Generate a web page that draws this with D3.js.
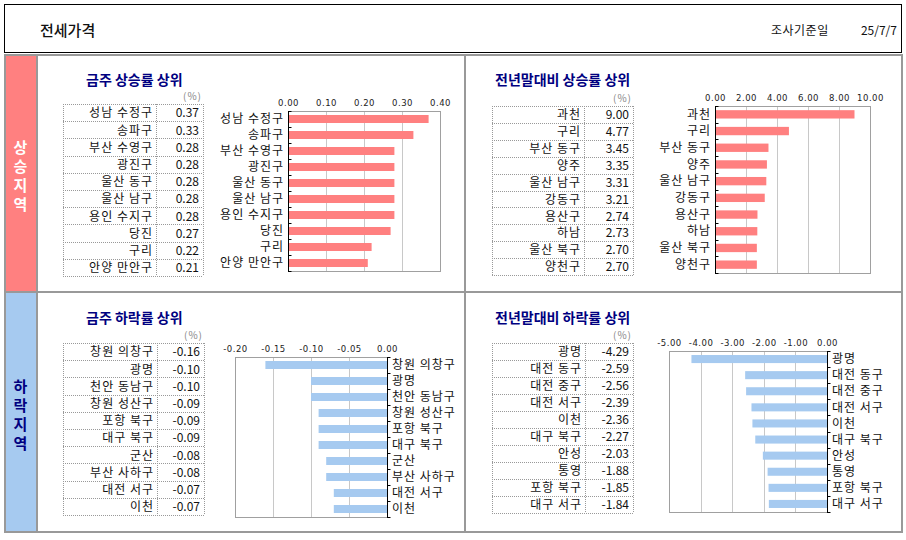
<!DOCTYPE html>
<html>
<head>
<meta charset="utf-8">
<script src="https://cdn.jsdelivr.net/npm/d3@7"></script>
<style>
  body { margin: 0; background: #fff; }
  svg text { font-family: "Noto Sans CJK KR", "Noto Sans", sans-serif; }
</style>
</head>
<body>
<div id="chart"></div>
<script>
// data
var riseWeekNames = ["성남 수정구", "송파구", "부산 수영구", "광진구", "울산 동구", "울산 남구", "용인 수지구", "당진", "구리", "안양 만안구"];
var riseWeekValues = [0.37, 0.33, 0.28, 0.28, 0.28, 0.28, 0.28, 0.27, 0.22, 0.21];
var riseWeekTicks = [0, 0.1, 0.2, 0.3, 0.4];

var riseYearNames = ["과천", "구리", "부산 동구", "양주", "울산 남구", "강동구", "용산구", "하남", "울산 북구", "양천구"];
var riseYearValues = [9.00, 4.77, 3.45, 3.35, 3.31, 3.21, 2.74, 2.73, 2.70, 2.70];
var riseYearTicks = [0, 2, 4, 6, 8, 10];

var fallWeekNames = ["창원 의창구", "광명", "천안 동남구", "창원 성산구", "포항 북구", "대구 북구", "군산", "부산 사하구", "대전 서구", "이천"];
var fallWeekValues = [-0.16, -0.10, -0.10, -0.09, -0.09, -0.09, -0.08, -0.08, -0.07, -0.07];
var fallWeekTicks = [-0.2, -0.15, -0.1, -0.05, 0];

var fallYearNames = ["광명", "대전 동구", "대전 중구", "대전 서구", "이천", "대구 북구", "안성", "통영", "포항 북구", "대구 서구"];
var fallYearValues = [-4.29, -2.59, -2.56, -2.39, -2.36, -2.27, -2.03, -1.88, -1.85, -1.84];
var fallYearTicks = [-5, -4, -3, -2, -1, 0];

var pageTitle = "전세가격";
var dateLabel = "조사기준일";
var dateValue = "25/7/7";

var pink = "#ff8080";
var blue = "#a6caf0";
var navy = "#000080";
var frame = "#999999";

var svg = d3.select("#chart")
  .append("svg")
  .attr("width", 906)
  .attr("height", 540);

// header box
svg.append("rect")
  .attr("x", 4.5).attr("y", 4.5).attr("width", 897).attr("height", 48)
  .attr("fill", "#fff").attr("stroke", "#000").attr("stroke-width", 1);
svg.append("text")
  .attr("x", 40).attr("y", 31).attr("dy", "0.35em")
  .style("font-size", "15px").style("font-weight", 500).style("fill", "#111")
  .text(pageTitle);
svg.append("text")
  .attr("x", 771).attr("y", 31).attr("dy", "0.35em")
  .style("font-size", "12px").style("fill", "#111").style("letter-spacing", "0.5px")
  .text(dateLabel);
svg.append("text")
  .attr("x", 897).attr("y", 31).attr("dy", "0.35em")
  .style("font-size", "12px").style("fill", "#111").style("text-anchor", "end")
  .text(dateValue);

// side bands
svg.append("rect").attr("x", 5).attr("y", 55).attr("width", 31).attr("height", 237).attr("fill", pink);
svg.append("rect").attr("x", 5).attr("y", 292).attr("width", 31).attr("height", 240).attr("fill", blue);

function sideLabel(str, cy, color) {
  var chars = str.split("");
  svg.selectAll(null)
    .data(chars)
    .enter()
    .append("text")
    .attr("x", 20.5)
    .attr("y", function(d, i) { return cy + (i - (chars.length - 1) / 2) * 19; })
    .attr("dy", "0.35em")
    .style("text-anchor", "middle")
    .style("font-size", "15px")
    .style("font-weight", "bold")
    .style("fill", color)
    .text(function(d) { return d; });
}
sideLabel("상승지역", 176, "#fff");
sideLabel("하락지역", 415, navy);

// frame lines
svg.append("rect")
  .attr("x", 5).attr("y", 55).attr("width", 897).attr("height", 477)
  .attr("fill", "none").attr("stroke", frame).attr("stroke-width", 2);
svg.append("line").attr("x1", 37).attr("x2", 37).attr("y1", 55).attr("y2", 532)
  .attr("stroke", frame).attr("stroke-width", 2);
svg.append("line").attr("x1", 5).attr("x2", 902).attr("y1", 292).attr("y2", 292)
  .attr("stroke", frame).attr("stroke-width", 2);
svg.append("line").attr("x1", 465).attr("x2", 465).attr("y1", 55).attr("y2", 532)
  .attr("stroke", frame).attr("stroke-width", 2);

function drawPanel(p) {
  var g = svg.append("g");
  var n = p.names.length;

  // title
  g.append("text")
    .attr("x", p.titleX).attr("y", p.titleY).attr("dy", "0.35em")
    .style("font-size", "14px").style("font-weight", "bold").style("fill", navy)
    .text(p.title);

  // (%) unit
  g.append("text")
    .attr("x", p.table.x1 - 1).attr("y", p.table.y0 - 4)
    .style("font-size", "10px").style("fill", "#888").style("text-anchor", "end")
    .style("letter-spacing", "1px")
    .text("(%)");

  // table
  var t = p.table;
  var rowH = (t.y1 - t.y0) / n;
  var rows = d3.range(n + 1);
  g.selectAll(null)
    .data(rows)
    .enter()
    .append("line")
    .attr("x1", t.x0).attr("x2", t.x1)
    .attr("y1", function(d) { return Math.round(t.y0 + d * rowH) + 0.5; })
    .attr("y2", function(d) { return Math.round(t.y0 + d * rowH) + 0.5; })
    .attr("stroke", "#999").attr("stroke-dasharray", "1,1");
  [t.x0, t.xd, t.x1].forEach(function(xv) {
    g.append("line")
      .attr("x1", xv + 0.5).attr("x2", xv + 0.5).attr("y1", t.y0).attr("y2", t.y1)
      .attr("stroke", "#999").attr("stroke-dasharray", "1,1");
  });
  g.selectAll(null)
    .data(p.names)
    .enter()
    .append("text")
    .attr("x", t.xd - 3)
    .attr("y", function(d, i) { return t.y0 + (i + 0.5) * rowH + 0.5; })
    .attr("dy", "0.35em")
    .style("text-anchor", "end").style("font-size", "12px").style("fill", "#111")
    .style("letter-spacing", "1px")
    .text(function(d) { return d; });
  g.selectAll(null)
    .data(p.values)
    .enter()
    .append("text")
    .attr("x", t.x1 - 4)
    .attr("y", function(d, i) { return t.y0 + (i + 0.5) * rowH + 0.5; })
    .attr("dy", "0.35em")
    .style("text-anchor", "end").style("font-size", "12px").style("fill", "#111")
    .text(function(d) { return d.toFixed(2); });

  // bar chart
  var pl = p.plot;
  var x = d3.scaleLinear().domain(d3.extent(p.ticks)).range([pl.x0, pl.x1]);
  var y = d3.scaleBand().domain(p.names).range([pl.y0, pl.y1])
    .paddingInner(0.5).paddingOuter(0.25);

  // gridlines
  g.selectAll(null)
    .data(p.ticks.slice(1, -1))
    .enter()
    .append("line")
    .attr("x1", function(d) { return Math.round(x(d)) + 0.5; })
    .attr("x2", function(d) { return Math.round(x(d)) + 0.5; })
    .attr("y1", pl.y0).attr("y2", pl.y1)
    .attr("stroke", "#c8c8c8");

  g.append("rect")
    .attr("x", pl.x0 + 0.5).attr("y", pl.y0 + 0.5)
    .attr("width", pl.x1 - pl.x0).attr("height", pl.y1 - pl.y0)
    .attr("fill", "none").attr("stroke", "#a0a0a0");

  g.selectAll(null)
    .data(p.values)
    .enter()
    .append("rect")
    .attr("x", function(d) { return x(Math.min(0, d)); })
    .attr("width", function(d) { return Math.abs(x(d) - x(0)); })
    .attr("y", function(d, i) { return y(p.names[i]); })
    .attr("height", y.bandwidth())
    .attr("fill", p.color);

  // category axis line at zero
  var zx = Math.round(x(0)) + 0.5;
  g.append("line")
    .attr("x1", zx).attr("x2", zx).attr("y1", pl.y0).attr("y2", pl.y1 + 1)
    .attr("stroke", "#000");
  g.selectAll(null)
    .data(d3.range(n + 1))
    .enter()
    .append("line")
    .attr("x1", zx).attr("x2", zx + 3)
    .attr("y1", function(d) { return Math.round(pl.y0 + d * y.step()) + 0.5; })
    .attr("y2", function(d) { return Math.round(pl.y0 + d * y.step()) + 0.5; })
    .attr("stroke", "#000");

  // category labels
  var left = p.labelSide === "left";
  g.selectAll(null)
    .data(p.names)
    .enter()
    .append("text")
    .attr("x", left ? pl.x0 - 4 : pl.x1 + 5)
    .attr("y", function(d) { return y(d) + y.bandwidth() / 2; })
    .attr("dy", "0.35em")
    .style("text-anchor", left ? "end" : "start")
    .style("font-size", "12px").style("fill", "#111")
    .style("letter-spacing", "1px")
    .text(function(d) { return d; });

  // value axis on top
  var ax = g.append("g")
    .attr("transform", "translate(0," + (pl.y0 - 2) + ")")
    .call(d3.axisTop(x).tickValues(p.ticks).tickSize(0).tickPadding(3)
      .tickFormat(function(d) { return d.toFixed(2); }));
  ax.select(".domain").remove();
  ax.selectAll("text")
    .style("font-size", "8.5px").style("fill", "#222")
    .style("letter-spacing", "0.5px")
    .style("font-family", "'DejaVu Sans', sans-serif");
}

drawPanel({
  title: "금주 상승률 상위", titleX: 86, titleY: 80,
  names: riseWeekNames, values: riseWeekValues, ticks: riseWeekTicks,
  table: { x0: 63, xd: 156, x1: 203, y0: 104, y1: 276 },
  plot: { x0: 288, x1: 440, y0: 111, y1: 271 },
  color: pink, labelSide: "left"
});
drawPanel({
  title: "전년말대비 상승률 상위", titleX: 495, titleY: 80,
  names: riseYearNames, values: riseYearValues, ticks: riseYearTicks,
  table: { x0: 492, xd: 584, x1: 633, y0: 106, y1: 275 },
  plot: { x0: 715, x1: 870, y0: 106, y1: 273 },
  color: pink, labelSide: "left"
});
drawPanel({
  title: "금주 하락률 상위", titleX: 86, titleY: 318,
  names: fallWeekNames, values: fallWeekValues, ticks: fallWeekTicks,
  table: { x0: 63, xd: 157, x1: 204, y0: 343, y1: 515 },
  plot: { x0: 235, x1: 387, y0: 357, y1: 517 },
  color: blue, labelSide: "right"
});
drawPanel({
  title: "전년말대비 하락률 상위", titleX: 495, titleY: 318,
  names: fallYearNames, values: fallYearValues, ticks: fallYearTicks,
  table: { x0: 492, xd: 585, x1: 633, y0: 343, y1: 513 },
  plot: { x0: 669, x1: 827, y0: 351, y1: 512 },
  color: blue, labelSide: "right"
});
</script>
</body>
</html>
